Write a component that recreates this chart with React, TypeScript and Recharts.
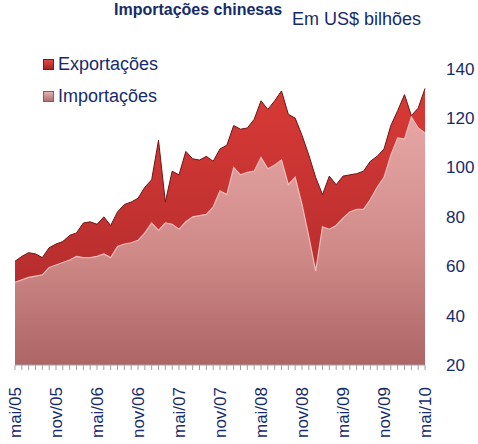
import { AreaChart, Area, XAxis, YAxis } from "recharts";

const months = [
  "mai/05", "jun/05", "jul/05", "ago/05", "set/05", "out/05", "nov/05", "dez/05",
  "jan/06", "fev/06", "mar/06", "abr/06", "mai/06", "jun/06", "jul/06", "ago/06",
  "set/06", "out/06", "nov/06", "dez/06", "jan/07", "fev/07", "mar/07", "abr/07",
  "mai/07", "jun/07", "jul/07", "ago/07", "set/07", "out/07", "nov/07", "dez/07",
  "jan/08", "fev/08", "mar/08", "abr/08", "mai/08", "jun/08", "jul/08", "ago/08",
  "set/08", "out/08", "nov/08", "dez/08", "jan/09", "fev/09", "mar/09", "abr/09",
  "mai/09", "jun/09", "jul/09", "ago/09", "set/09", "out/09", "nov/09", "dez/09",
  "jan/10", "fev/10", "mar/10", "abr/10", "mai/10",
];

// US$ bilhões
const exportacoes = [
  62, 64, 65.5, 65, 63.5, 67.5, 69, 70, 72.5, 73.5, 77.5, 78, 77, 80, 76.5, 82,
  85, 86, 87.5, 92, 95, 111, 86, 98.5, 97, 106.5, 103.5, 103, 104.5, 102.5, 107.5, 109,
  117, 115.5, 116, 119.5, 127, 123.5, 127, 131, 121.5, 120, 113, 105, 96, 89,
  96.5, 93, 96.5, 97, 97.5, 98.5, 102.5, 104.5, 107.5, 117, 123, 129.5, 121, 124, 132,
];

const importacoes = [
  53.5, 54.5, 55.5, 56, 56.5, 59.5, 60.5, 61.5, 62.5, 64, 63.5, 63.5, 64, 65, 63.5, 68,
  69, 69.5, 70.5, 73.5, 77.5, 74.5, 77.5, 77, 75, 78, 80, 80.5, 81, 84, 90.5, 89,
  100, 97, 98, 98.5, 104, 99.5, 101, 103, 93, 96, 85, 72, 58, 76,
  75, 76.5, 79.5, 82, 83, 83, 87, 92, 96, 105, 112, 111.5, 120.5, 116, 114,
];

const yTicks = [20, 40, 60, 80, 100, 120, 140];

const data = months.map((m, i) => ({
  month: m,
  exp: exportacoes[i],
  imp: importacoes[i],
}));

const NAVY = "#172b6b";
const FONT = "'Liberation Sans', Arial, sans-serif";

const MonthTick = (props: any) => {
  const { x, y, payload, index } = props;
  if (index % 6 !== 0) return <g />;
  const ty = y + 15;
  return (
    <text
      x={x}
      y={ty}
      dy="0.35em"
      transform={`rotate(-90 ${x} ${ty})`}
      textAnchor="end"
      fill={NAVY}
      fontSize={17}
      fontFamily={FONT}
    >
      {payload.value}
    </text>
  );
};

export default function App() {
  return (
    <div style={{ position: "absolute", left: 0, top: 0, width: 478, height: 444, fontFamily: FONT, background: "#fff", overflow: "hidden" }}>
      <div style={{ position: "absolute", left: 0, width: 396, top: 1, textAlign: "center", fontSize: 16, fontWeight: "bold", color: NAVY, lineHeight: "17px" }}>
        Importações chinesas
      </div>
      <div style={{ position: "absolute", right: 57, top: 9, fontSize: 18, color: NAVY, lineHeight: "20px" }}>
        Em US$ bilhões
      </div>

      <AreaChart
        width={478}
        height={444}
        data={data}
        margin={{ top: 44, right: 0, bottom: 0, left: 15 }}
      >
        <defs>
          <linearGradient id="gExp" x1="0" y1="0" x2="0" y2="1">
            <stop offset="0%" stopColor="#d83a36" />
            <stop offset="100%" stopColor="#a8282a" />
          </linearGradient>
          <linearGradient id="gImp" x1="0" y1="0" x2="0" y2="1">
            <stop offset="0%" stopColor="#e6a6a4" />
            <stop offset="55%" stopColor="#cf8a88" />
            <stop offset="100%" stopColor="#ad6565" />
          </linearGradient>
        </defs>
        <XAxis
          dataKey="month"
          interval={0}
          height={79}
          tickSize={5}
          tickMargin={2}
          tickLine={{ stroke: "#a0a0a0" }}
          axisLine={{ stroke: "#a0a0a0" }}
          tick={<MonthTick />}
        />
        <YAxis
          yAxisId="r"
          orientation="right"
          width={53}
          domain={[20, 150]}
          ticks={yTicks}
          tickSize={0}
          tickMargin={21}
          axisLine={false}
          tickLine={false}
          tick={{ fill: NAVY, fontSize: 17, fontFamily: FONT }}
        />
        <YAxis
          yAxisId="l"
          orientation="left"
          width={0}
          domain={[20, 150]}
          tick={false}
          tickLine={false}
          axisLine={{ stroke: "#9a9a9a", strokeWidth: 2 }}
        />
        <Area
          yAxisId="r"
          type="linear"
          dataKey="exp"
          fill="url(#gExp)"
          fillOpacity={1}
          stroke="#6e1616"
          strokeWidth={1}
          isAnimationActive={false}
          dot={false}
          activeDot={false}
        />
        <Area
          yAxisId="r"
          type="linear"
          dataKey="imp"
          fill="url(#gImp)"
          fillOpacity={1}
          stroke="#f0bcba"
          strokeWidth={1.2}
          isAnimationActive={false}
          dot={false}
          activeDot={false}
        />
      </AreaChart>

      <div style={{ position: "absolute", left: 43, top: 52, fontSize: 18, color: NAVY, lineHeight: "24px" }}>
        <div style={{ display: "flex", alignItems: "center" }}>
          <span style={{ display: "inline-block", width: 9, height: 9, marginRight: 4, background: "linear-gradient(#e04a46, #a82222)", border: "1px solid #7a1a1a" }} />
          Exportações
        </div>
        <div style={{ display: "flex", alignItems: "center", marginTop: 8 }}>
          <span style={{ display: "inline-block", width: 9, height: 9, marginRight: 4, background: "linear-gradient(#e2b0ae, #b07070)", border: "1px solid #8a5a5a" }} />
          Importações
        </div>
      </div>
    </div>
  );
}
